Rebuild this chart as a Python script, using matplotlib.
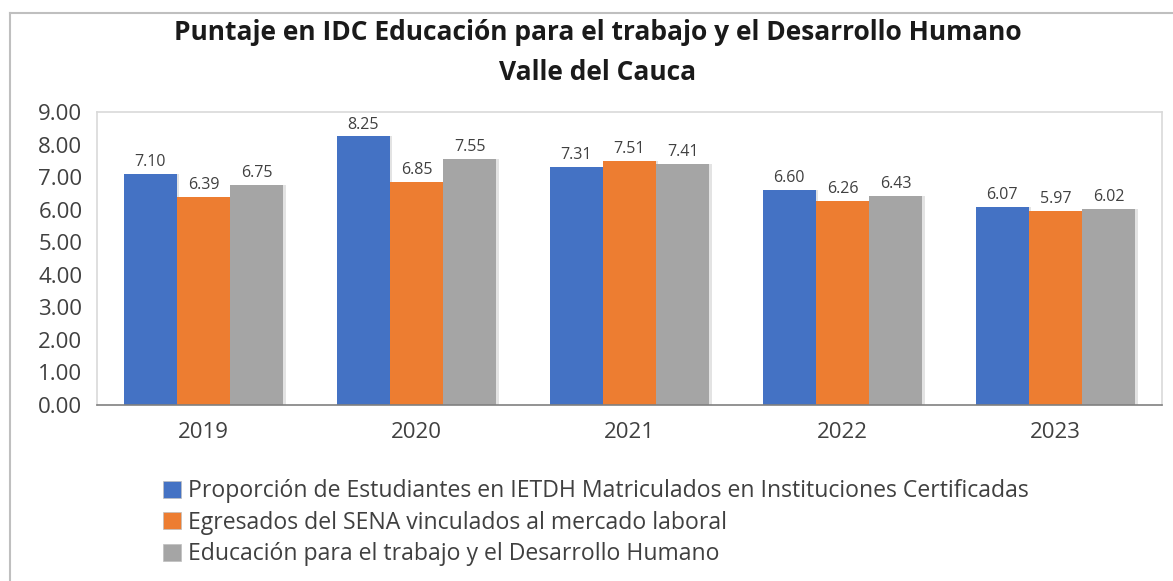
import numpy as np
import matplotlib.pyplot as plt
from matplotlib.lines import Line2D
from matplotlib.patches import Patch

plt.rcParams['font.family'] = ['Open Sans', 'DejaVu Sans']

years = ["2019", "2020", "2021", "2022", "2023"]
proporcion = [7.10, 8.25, 7.31, 6.60, 6.07]
egresados = [6.39, 6.85, 7.51, 6.26, 5.97]
educacion = [6.75, 7.55, 7.41, 6.43, 6.02]

series = [
    ("Proporción de Estudiantes en IETDH Matriculados en Instituciones Certificadas", proporcion, "#4472C4"),
    ("Egresados del SENA vinculados al mercado laboral", egresados, "#ED7D31"),
    ("Educación para el trabajo y el Desarrollo Humano", educacion, "#A5A5A5"),
]

W, H = 1173, 581
fig = plt.figure(figsize=(W / 100, H / 100), dpi=100)
ax = fig.add_axes([97 / W, 1 - 405 / H, (1162 - 97) / W, (405 - 112) / H])

x = np.arange(len(years))
width = 0.25
for i, (name, vals, col) in enumerate(series):
    pos = x + (i - 1) * width
    # light shadow
    ax.bar(pos + 0.01, vals, width, color="#e3e3e3", zorder=1)
    ax.bar(pos, vals, width, color=col, label=name, zorder=2)
    for p, v in zip(pos, vals):
        ax.text(p, v + 0.12, f"{v:.2f}", ha="center", va="bottom",
                fontsize=11.5, color="#404040")

ax.set_xlim(-0.5, len(years) - 0.5)
ax.set_ylim(0, 9)
ax.set_yticks(np.arange(0, 10, 1))
ax.set_yticklabels([f"{v:.2f}" for v in range(10)])
ax.set_xticks(x)
ax.set_xticklabels(years)
ax.tick_params(axis="y", length=0, pad=10.5, labelsize=16, labelcolor="#404040")
ax.tick_params(axis="x", length=0, pad=12, labelsize=16, labelcolor="#404040")
for s in ["top", "right", "left"]:
    ax.spines[s].set_color("#d9d9d9")
    ax.spines[s].set_linewidth(1.2)
ax.spines["bottom"].set_color("#808080")
ax.spines["bottom"].set_linewidth(1.2)

fig.text(598 / W, 1 - 33 / H, "Puntaje en IDC Educación para el trabajo y el Desarrollo Humano",
         ha="center", va="center", fontsize=19, fontweight="bold", color="#1a1a1a")
fig.text(598 / W, 1 - 72 / H, "Valle del Cauca",
         ha="center", va="center", fontsize=19, fontweight="bold", color="#1a1a1a")

handles = [Patch(facecolor=c, edgecolor="#bfbfbf", linewidth=0.5) for _, _, c in series]
fig.legend(handles, [n for n, _, _ in series], loc="upper left",
           bbox_to_anchor=(154 / W, 1 - 470 / H), frameon=False, fontsize=16.6,
           handlelength=0.78, handleheight=0.78, handletextpad=0.3,
           labelspacing=0.33, labelcolor="#404040", borderaxespad=0)

# outer chart border (top and left visible)
fig.add_artist(Line2D([10 / W, 1.0], [1 - 13 / H, 1 - 13 / H], color="#bfbfbf", lw=1.5))
fig.add_artist(Line2D([10 / W, 10 / W], [0, 1 - 13 / H], color="#bfbfbf", lw=1.5))

fig.savefig("out.png", dpi=100)
